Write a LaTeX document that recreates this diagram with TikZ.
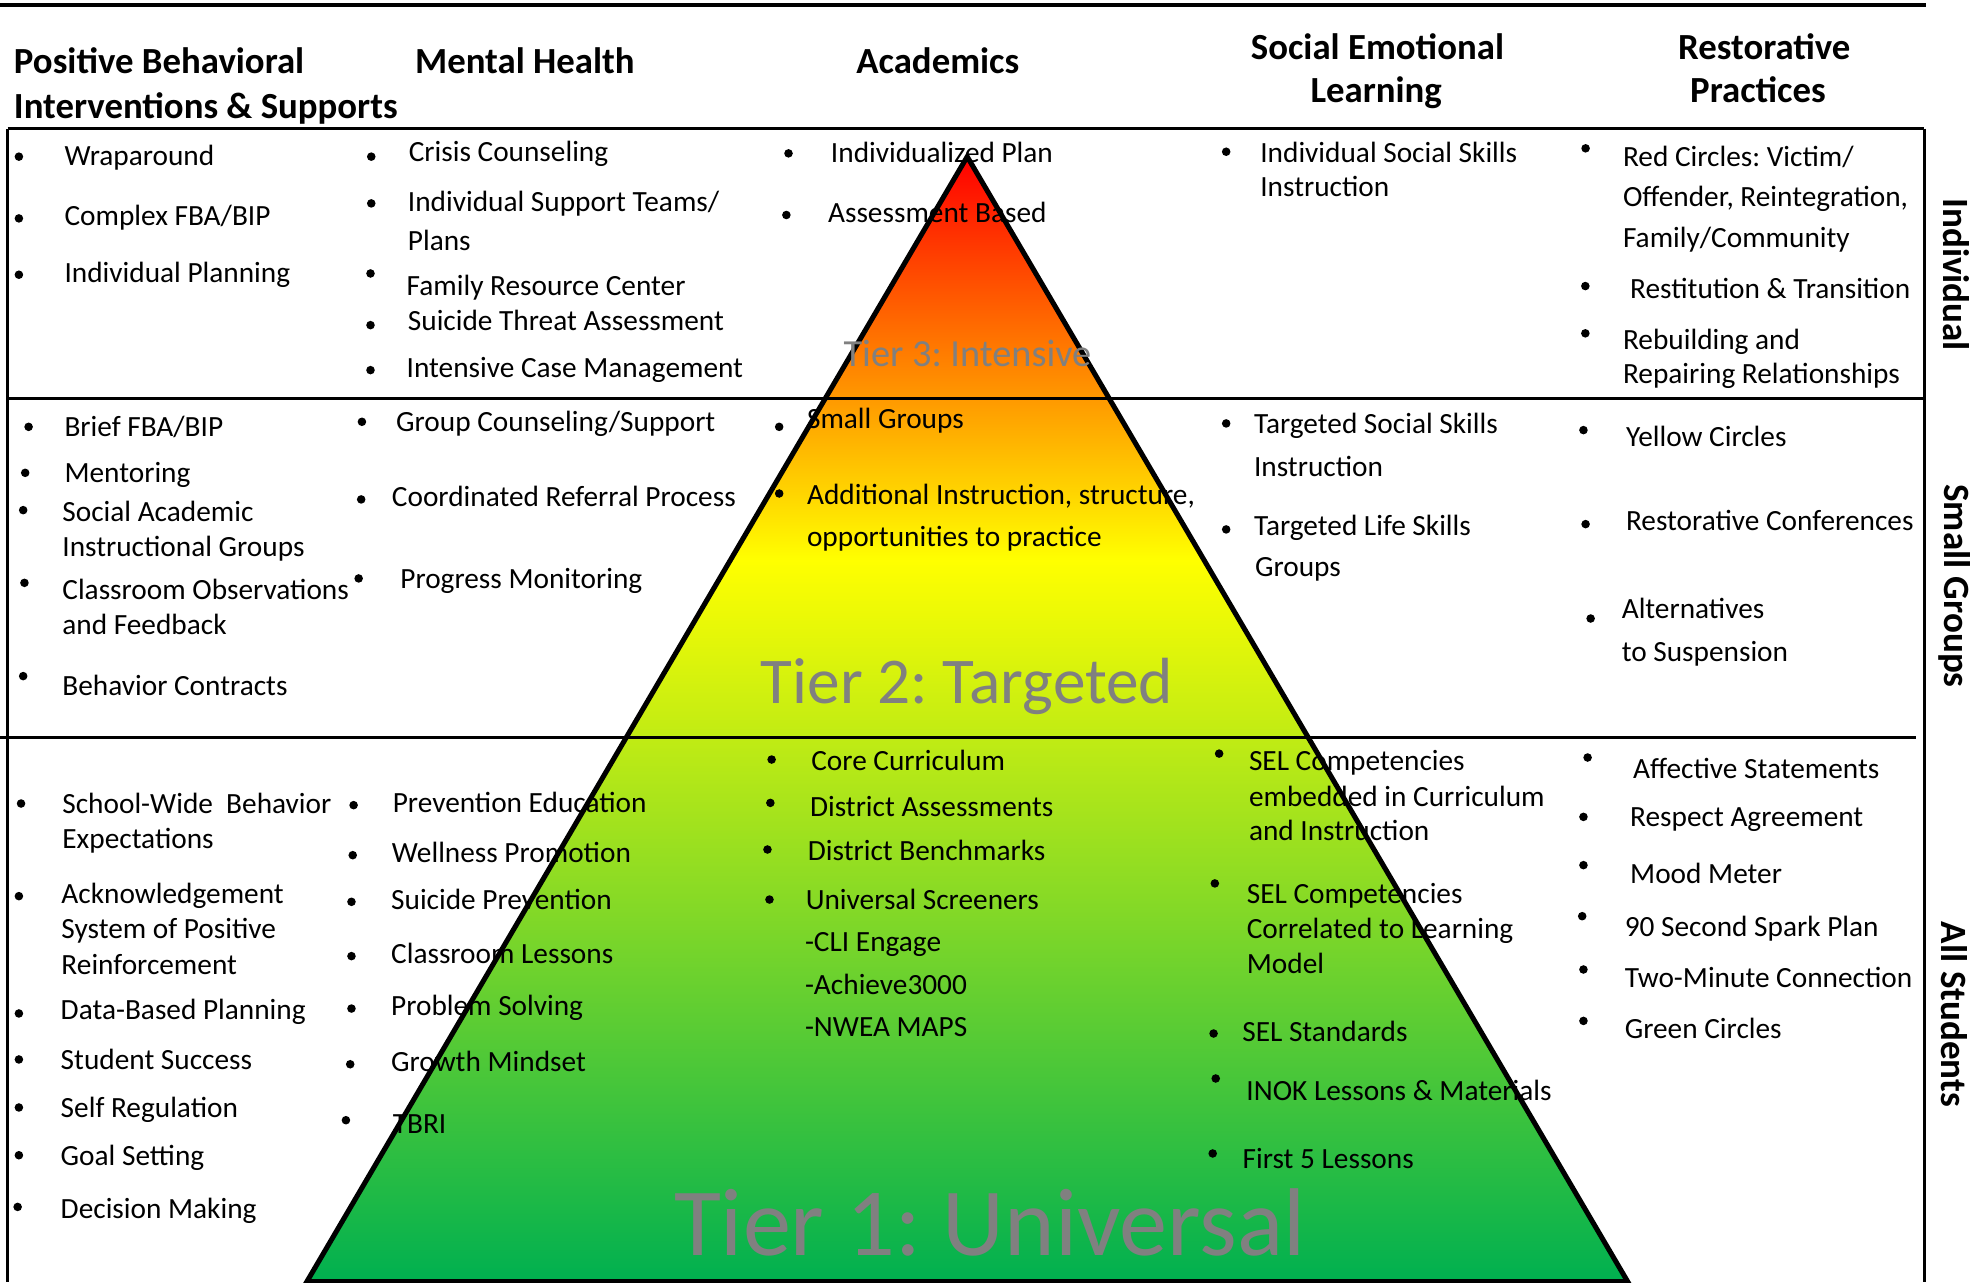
\documentclass[tikz,border=0pt]{standalone}
\usepackage{fontspec}
\setmainfont{Carlito}
\definecolor{tred}{RGB}{255,0,0}
\definecolor{tyellow}{RGB}{255,255,0}
\definecolor{tgreen}{RGB}{0,176,80}
\definecolor{tiergray}{RGB}{128,128,128}
\pgfdeclareverticalshading{tiershade}{100bp}{color(0bp)=(tgreen); color(25bp)=(tgreen); color(57.08bp)=(tyellow); color(75bp)=(tred); color(100bp)=(tred)}
\newcommand\mytx[3]{\node[txt] (#1) at (#2) {#3};}
\newcommand\dotb[1]{\fill (#1) circle[radius=1.7pt];}
\tikzset{
  txt/.style={anchor=base west, inner sep=0pt, font=\fontsize{11.63pt}{14pt}\selectfont},
  hdr/.style={anchor=base west, inner sep=0pt, font=\bfseries\fontsize{14.6pt}{17pt}\selectfont},
  hdrc/.style={hdr, anchor=base},
  side/.style={inner sep=0pt, font=\bfseries\fontsize{14.7pt}{17pt}\selectfont, rotate=-90},
  tier/.style={anchor=base west, inner sep=0pt, text=tiergray},
  gridline/.style={line width=1.3pt},
  triline/.style={line width=2pt, line join=miter}
}
\frenchspacing
\begin{document}
\begin{tikzpicture}[x=0.5pt, y=-0.5pt]
\useasboundingbox (0,0) rectangle (1568,1017.3);
% triangle coordinates
\coordinate (apex) at (767.5,124.3);
\coordinate (bl) at (243.5,1017);
\coordinate (br) at (1291.6,1017);
% triangle fill
\shade[shading=tiershade] (apex) -- (bl) -- (br) -- cycle;
% grid
\draw[line width=1.5pt] (0,4) -- (1528.5,4);
\draw[gridline] (6,102) -- (1527,102);
\draw[gridline] (6,316) -- (1527,316);
\draw[gridline] (0,585) -- (1520,585);
\draw[gridline] (6,102) -- (6,1017.3);
\draw[gridline] (1527,102) -- (1527,1017.3);
% headers
\node[hdr] (h1a) at (10.7,58.7) {Positive Behavioral};
\node[hdr] (h1b) at (10.7,93.9) {Interventions \& Supports};
\node[hdr] (h2) at (329,58.7) {Mental Health};
\node[hdr] (h3) at (679.1,58.7) {Academics};
\node[hdrc] (h4a) at (1093,47.6) {Social Emotional};
\node[hdrc] (h4b) at (1092,81.5) {Learning};
\node[hdrc] (h5a) at (1400,47.3) {Restorative};
\node[hdrc] (h5b) at (1395,81) {Practices};
% side labels
\node[side] (sI) at (1552,218) {Individual};
\node[side] (sS) at (1551,465) {Small Groups};
\node[side] (sA) at (1551,805) {All Students};
% ---- row 1
\dotb{15,124.3}\mytx{a1}{50.8,131.5}{Wraparound}
\dotb{15,173.3}\mytx{a2}{50.8,178.6}{Complex FBA/BIP}
\dotb{15,218}\mytx{a3}{50.8,224.3}{Individual Planning}
\dotb{294.6,124.3}\mytx{b1}{324,128.5}{Crisis Counseling}
\dotb{294.6,161.4}\mytx{b2}{323.3,167.5}{Individual Support Teams/}
\mytx{b2b}{323.3,199}{Plans}
\dotb{294,217}\mytx{b3}{322.3,234.5}{Family Resource Center}
\dotb{294,258}\mytx{b4}{323.3,262.5}{Suicide Threat Assessment}
\dotb{294,293.7}\mytx{b5}{322.3,299.5}{Intensive Case Management}
\dotb{625.7,121.7}\mytx{c1}{659,128.8}{Individualized Plan}
\dotb{624,170.6}\mytx{c2}{656.7,176.7}{Assessment Based}
\dotb{973,120.4}\mytx{d1}{999.7,128.8}{Individual Social Skills}
\mytx{d1b}{999.7,156}{Instruction}
\dotb{1258.2,117.7}\mytx{e1}{1287.5,132}{Red Circles: Victim/}
\mytx{e1b}{1287.5,164}{Offender, Reintegration,}
\mytx{e1c}{1287.5,196}{Family/Community}
\dotb{1258,227}\mytx{e2}{1293.2,237}{Restitution \& Transition}
\dotb{1258,264.5}\mytx{e3}{1287.5,277.5}{Rebuilding and}
\mytx{e3b}{1287.5,304.5}{Repairing Relationships}
% ---- row 2
\dotb{22.7,338.7}\mytx{f1}{50.8,346}{Brief FBA/BIP}
\dotb{20,375.2}\mytx{f2}{50.8,383}{Mentoring}
\dotb{18.4,404.8}\mytx{f3}{49.1,413.5}{Social Academic}
\mytx{f3b}{49.1,441.5}{Instructional Groups}
\dotb{19.4,462.5}\mytx{f4}{49.1,476}{Classroom Observations}
\mytx{f4b}{49.1,503.5}{and Feedback}
\dotb{18.4,536.5}\mytx{f5}{49.1,552}{Behavior Contracts}
\dotb{287.2,334.7}\mytx{g1}{314,342.5}{Group Counseling/Support}
\dotb{286.6,396.3}\mytx{g2}{310.6,402}{Coordinated Referral Process}
\dotb{284.6,459}\mytx{g3}{317.3,467}{Progress Monitoring}
\dotb{618.3,338.7}\mytx{k1}{640,340}{Small Groups}
\dotb{618.3,391.6}\mytx{k2}{640,400}{Additional Instruction, structure,}
\mytx{k2b}{640,434}{opportunities to practice}
\dotb{973,336}\mytx{m1}{994.7,344}{Targeted Social Skills}
\mytx{m1b}{994.7,378.3}{Instruction}
\dotb{973,420.1}\mytx{m2}{994.7,424.6}{Targeted Life Skills}
\mytx{m2b}{995.5,457.7}{Groups}
\dotb{1256.5,341.3}\mytx{n1}{1289.9,354.5}{Yellow Circles}
\dotb{1258.2,415.9}\mytx{n2}{1289.9,421.2}{Restorative Conferences}
\dotb{1262.2,490.8}\mytx{n3}{1286.5,490.8}{Alternatives}
\mytx{n3b}{1286.5,525.2}{to Suspension}
% ---- row 3
\dotb{16.7,637.6}\mytx{p1}{49.1,645.5}{School-Wide~ Behavior}
\mytx{p1b}{49.1,673.3}{Expectations}
\dotb{15,711.1}\mytx{p2}{48.4,716.9}{Acknowledgement}
\mytx{p2b}{48.4,744.7}{System of Positive}
\mytx{p2c}{48.4,773}{Reinforcement}
\dotb{15,804.2}\mytx{p3}{47.8,809}{Data-Based Planning}
\dotb{15,840.7}\mytx{p4}{47.8,848.7}{Student Success}
\dotb{15,878.8}\mytx{p5}{47.8,886.8}{Self Regulation}
\dotb{15,916.7}\mytx{p6}{47.8,924.6}{Goal Setting}
\dotb{14,957.7}\mytx{p7}{47.8,967}{Decision Making}
\dotb{280.6,638.9}\mytx{q1}{311.3,645}{Prevention Education}
\dotb{279.9,678.6}\mytx{q2}{310.6,684.7}{Wellness Promotion}
\dotb{278.9,715.6}\mytx{q3}{310,721.7}{Suicide Prevention}
\dotb{278.9,758.7}\mytx{q4}{310,764.6}{Classroom Lessons}
\dotb{278.9,800.3}\mytx{q5}{310,805.6}{Problem Solving}
\dotb{277.9,844.5}\mytx{q6}{310,850.5}{Growth Mindset}
\dotb{274.5,888.9}\mytx{q7}{311.3,899.5}{TBRI}
\dotb{612.3,602.7}\mytx{r1}{643.4,611.7}{Core Curriculum}
\dotb{611.3,637.1}\mytx{r2}{642.4,647.7}{District Assessments}
\dotb{609,674.1}\mytx{r3}{640.7,683}{District Benchmarks}
\dotb{610.6,713.8}\mytx{r4}{639,721.7}{Universal Screeners}
\mytx{r4b}{638.4,755.3}{-CLI Engage}
\mytx{r4c}{638.4,789.2}{-Achieve3000}
\mytx{r4d}{638.4,822.8}{-NWEA MAPS}
\dotb{967.4,598}\mytx{s1}{990.7,611.7}{SEL Competencies}
\mytx{s1b}{990.7,640}{embedded in Curriculum}
\mytx{s1c}{990.7,667.2}{and Instruction}
\dotb{964,701}\mytx{s2}{989,717}{SEL Competencies}
\mytx{s2b}{989,744.7}{Correlated to Learning}
\mytx{s2c}{989,772.5}{Model}
\dotb{963,820.1}\mytx{s3}{985.4,826.2}{SEL Standards}
\dotb{964.7,855.8}\mytx{s4}{988.7,873}{INOK Lessons \& Materials}
\dotb{962.3,915.3}\mytx{s5}{985.7,927.2}{First 5 Lessons}
\dotb{1259.8,601.1}\mytx{u1}{1295.6,617.8}{Affective Statements}
\dotb{1256.5,648.2}\mytx{u2}{1293.2,655.6}{Respect Agreement}
\dotb{1256.5,686.5}\mytx{u3}{1293.2,701}{Mood Meter}
\dotb{1255.5,727}\mytx{u4}{1288.9,742.9}{90 Second Spark Plan}
\dotb{1256.5,769.3}\mytx{u5}{1288.9,783.9}{Two-Minute Connection}
\dotb{1256.5,810.1}\mytx{u6}{1288.9,824.1}{Green Circles}
% triangle outline
\draw[triline] (apex) -- (bl) -- (br) -- cycle;
% tier labels
\node[tier, font=\fontsize{15.2pt}{18pt}\selectfont] (tier3) at (669,290.5) {Tier 3: Intensive};
\node[tier, font=\fontsize{25.9pt}{30pt}\selectfont] (tier2) at (603.3,558.2) {Tier 2: Targeted};
\node[tier, font=\fontsize{38.2pt}{44pt}\selectfont] (tier1) at (534.5,996) {Tier 1: Universal};
\end{tikzpicture}
\end{document}
